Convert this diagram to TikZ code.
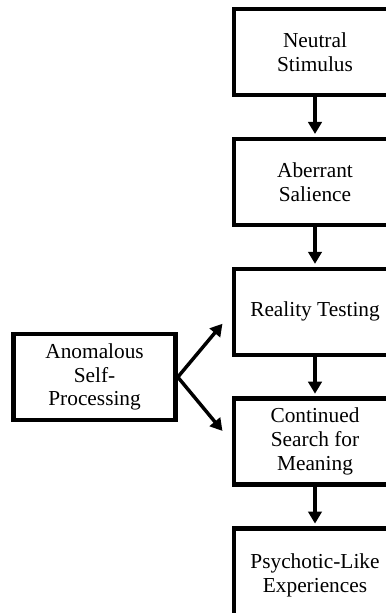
\documentclass[tikz,border=0pt]{standalone}
\usepackage{fontspec}
\setmainfont{Liberation Serif}
\usepackage{tikz}
\usetikzlibrary{arrows.meta, positioning}

\begin{document}
\begin{tikzpicture}[
    node distance=29.6pt,
    stage/.style={rectangle, draw=black, line width=3.3pt, minimum width=121.5pt, minimum height=64.5pt, align=center, font=\fontsize{16}{17.8}\selectfont},
    arrow/.style={-{Triangle[length=9pt, width=10pt]}, line width=2.6pt}
]
    \useasboundingbox (0,0) rectangle (288.75pt,-459.75pt);

    % Main Pathway
    \node[stage] (neutral) at (236.25pt,-39pt) {Neutral\\Stimulus};
    \node[stage, below=of neutral] (salience) {Aberrant\\Salience};
    \node[stage, below=of salience] (reality) {Reality Testing};
    \node[stage, below=of reality] (search) {Continued\\Search for\\Meaning};
    \node[stage, below=of search, minimum height=70pt] (psychotic) {Psychotic-Like\\Experiences};

    % Side Influence
    \node[stage, left=40.5pt of reality.west, yshift=-49pt, anchor=east] (self) {Anomalous\\Self-\\Processing};

    % Links
    \draw[arrow, shorten >=2pt] (neutral) -- (salience);
    \draw[arrow, shorten >=2pt] (salience) -- (reality);
    \draw[arrow, shorten >=2pt] (reality) -- (search);
    \draw[arrow, shorten >=2pt] (search) -- (psychotic);
    \draw[arrow] (self.east) -- ([xshift=-7pt, yshift=-9pt]reality.west);
    \draw[arrow] (self.east) -- ([xshift=-7pt, yshift=8pt]search.west);
\end{tikzpicture}
\end{document}
